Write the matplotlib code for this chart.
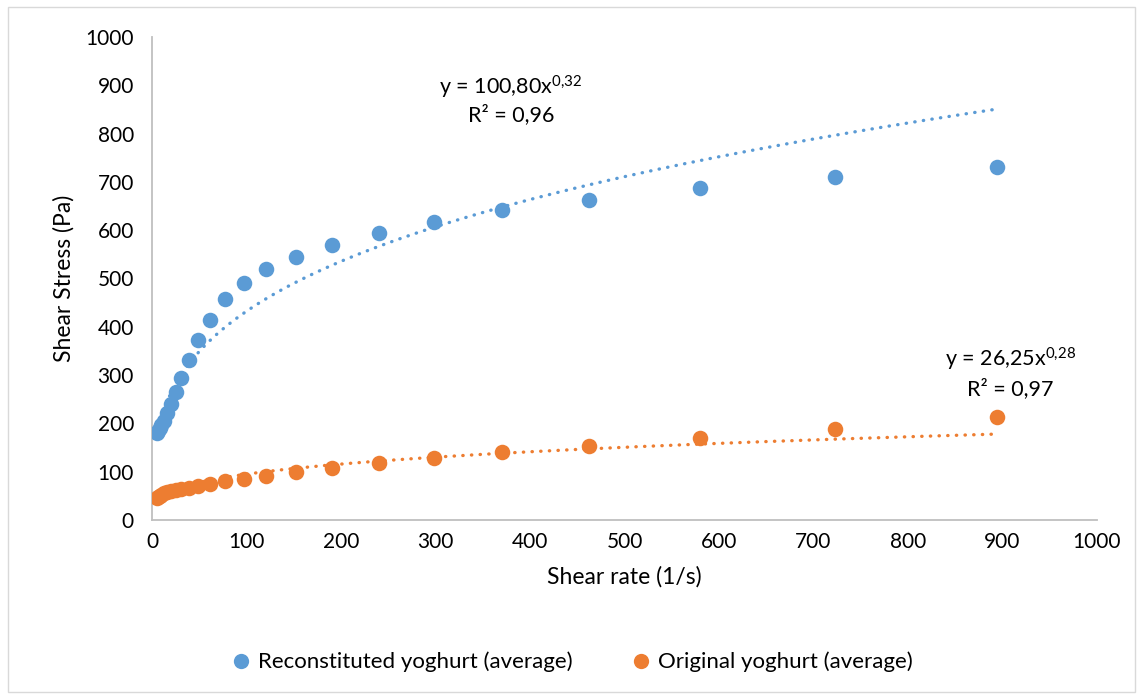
import numpy as np
import matplotlib
matplotlib.use("Agg")
import matplotlib.pyplot as plt
from matplotlib.patches import Rectangle

plt.rcParams['font.family'] = ['Lato', 'DejaVu Sans']
plt.rcParams['mathtext.fontset'] = 'custom'
plt.rcParams['mathtext.rm'] = 'Lato'

# shear rate (1/s)
shear_rate = [5.0, 6.3, 8.0, 10.0, 12.6, 16.0, 20.0, 25.0, 31.0, 39.0, 49.0, 61.5, 77.0,
              97.0, 121.0, 152.0, 191.0, 240.0, 298.0, 370.0, 462.0, 580.0, 723.0, 894.0]
# shear stress (Pa)
reconstituted = [180, 185, 190, 197, 205, 222, 240, 265, 293, 331, 372, 415, 457,
                 491, 519, 545, 570, 594, 617, 641, 663, 687, 710, 731]
original = [45, 47, 49, 52, 55, 58, 60, 62, 64, 67, 70, 75, 80,
            85, 91, 100, 108, 117, 128, 140, 153, 170, 189, 213]

blue = '#5B9BD5'
orange = '#ED7D31'

fig = plt.figure(figsize=(11.43, 6.99), dpi=100)
ax = fig.add_axes([152 / 1143, 1 - 520 / 699, (1097 - 152) / 1143, (520 - 37) / 699])

x = np.array(shear_rate)
xx = np.linspace(x.min(), x.max(), 300)


def power_fit(xs, ys):
    # power trendline, fitted on log-log like Excel does
    b, lna = np.polyfit(np.log(xs), np.log(ys), 1)
    return np.exp(lna), b


for ys, c in [(reconstituted, blue), (original, orange)]:
    a, b = power_fit(x, np.array(ys))
    ax.scatter(x, ys, s=125, color=c, zorder=3, linewidths=0)
    ax.plot(xx, a * xx ** b, color=c, lw=2.4, dashes=(0.1, 2.5),
            dash_capstyle='round', zorder=2)

ax.set_xlim(0, 1000)
ax.set_ylim(0, 1000)
ax.set_xticks(range(0, 1001, 100))
ax.set_yticks(range(0, 1001, 100))
ax.tick_params(length=0, labelsize=15, colors='black')
ax.tick_params(axis='y', pad=13)
ax.tick_params(axis='x', pad=9)
for s in ['top', 'right']:
    ax.spines[s].set_visible(False)
for s in ['left', 'bottom']:
    ax.spines[s].set_color('#BFBFBF')
    ax.spines[s].set_linewidth(1.3)

ax.set_xlabel('Shear rate (1/s)', fontsize=16.5, labelpad=10)
ax.set_ylabel('Shear Stress (Pa)', fontsize=16.5, labelpad=8)

ax.text(380, 895, r'y = 100,80x$\mathregular{^{0{,}32}}$', fontsize=15.5, ha='center', va='center')
ax.text(380, 840, 'R² = 0,96', fontsize=15.5, ha='center', va='center')
ax.text(908, 332, r'y = 26,25x$\mathregular{^{0{,}28}}$', fontsize=15.5, ha='center', va='center')
ax.text(908, 273, 'R² = 0,97', fontsize=15.5, ha='center', va='center')

h1 = plt.Line2D([], [], ls='none', marker='o', ms=11, color=blue, mew=0)
h2 = plt.Line2D([], [], ls='none', marker='o', ms=11, color=orange, mew=0)
fig.legend([h1, h2], ['Reconstituted yoghurt (average)', 'Original yoghurt (average)'],
           loc='center', bbox_to_anchor=(0.5, 1 - 662 / 699), ncol=2, frameon=False,
           fontsize=16, handlelength=1.0, handletextpad=0.25, columnspacing=2.6)

fig.patches.append(Rectangle((8 / 1143, 7 / 699), 1 - 16 / 1143, 1 - 14 / 699,
                             transform=fig.transFigure, fill=False,
                             edgecolor='#D9D9D9', lw=1))

fig.savefig('out.png', dpi=100)
